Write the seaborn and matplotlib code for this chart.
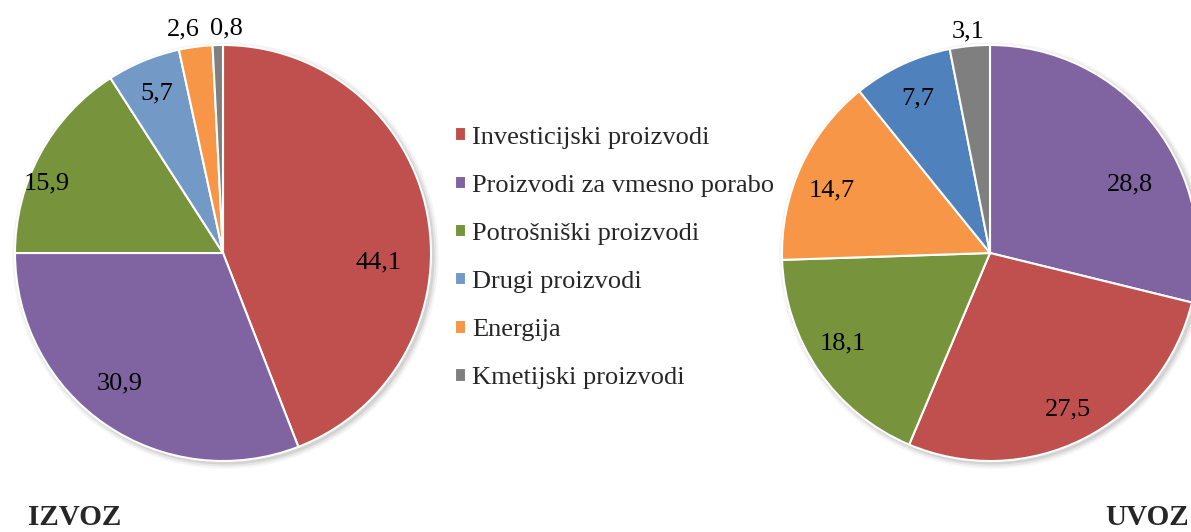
import matplotlib
matplotlib.use('Agg')
import matplotlib.pyplot as plt
from matplotlib.patches import Circle
import seaborn as sns
import numpy as np

sns.set_theme(style='white')
plt.rcParams['font.family'] = ['Liberation Serif', 'DejaVu Serif']

# data
categories = ['Investicijski proizvodi', 'Proizvodi za vmesno porabo', 'Potrošniški proizvodi',
              'Drugi proizvodi', 'Energija', 'Kmetijski proizvodi']
colors = {'Investicijski proizvodi': '#C0504D', 'Proizvodi za vmesno porabo': '#8064A2',
          'Potrošniški proizvodi': '#77933C', 'Drugi proizvodi': '#7399C6',
          'Energija': '#F79646', 'Kmetijski proizvodi': '#7F7F7F'}

izvoz_order = ['Investicijski proizvodi', 'Proizvodi za vmesno porabo', 'Potrošniški proizvodi',
               'Drugi proizvodi', 'Energija', 'Kmetijski proizvodi']
izvoz_values = [44.1, 30.9, 15.9, 5.7, 2.6, 0.8]

uvoz_order = ['Proizvodi za vmesno porabo', 'Investicijski proizvodi', 'Potrošniški proizvodi',
              'Energija', 'Drugi proizvodi', 'Kmetijski proizvodi']
uvoz_values = [28.8, 27.5, 18.1, 14.7, 7.7, 3.1]

# label placement (radius factor, angle shift in degrees)
izvoz_lab = [(0.75, -14), (0.80, -4), (0.91, 7), (0.83, 0), (1.09, 2.6), (1.08, -2.4)]
uvoz_lab = [(0.75, -12), (0.84, 0), (0.83, -3), (0.82, 3), (0.82, 0), (1.07, 0)]

fig = plt.figure(figsize=(11.91, 5.32), dpi=100)


def draw_pie(ax, order, values, lab, blue=None):
    cols = [colors[c] for c in order]
    if blue:
        cols = [blue if c == 'Drugi proizvodi' else colors[c] for c in order]
    # soft shadow
    for k, a in [(1.025, 0.04), (1.015, 0.06), (1.005, 0.08)]:
        ax.add_patch(Circle((0.012, -0.012), k, color='black', alpha=a, lw=0, zorder=0,
                            clip_on=False))
    wedges, _ = ax.pie(values, colors=cols, startangle=90, counterclock=False,
                       wedgeprops=dict(edgecolor='white', linewidth=1.5, zorder=1, clip_on=False))
    for w, v, (r, da) in zip(wedges, values, lab):
        ang = np.deg2rad((w.theta1 + w.theta2) / 2 + da)
        ax.text(r * np.cos(ang), r * np.sin(ang), f'{v:.1f}'.replace('.', ','),
                ha='center', va='center', fontsize=19, color='black', zorder=3)
    ax.set_xlim(-1, 1)
    ax.set_ylim(-1, 1)
    ax.set_aspect('equal')
    ax.axis('off')
    return wedges


r_px = 208
ax1 = fig.add_axes([(223 - r_px) / 1191, 1 - (253 + r_px) / 532, 2 * r_px / 1191, 2 * r_px / 532])
w1 = draw_pie(ax1, izvoz_order, izvoz_values, izvoz_lab)
ax2 = fig.add_axes([(990 - r_px) / 1191, 1 - (253 + r_px) / 532, 2 * r_px / 1191, 2 * r_px / 532])
draw_pie(ax2, uvoz_order, uvoz_values, uvoz_lab, blue='#4F81BD')

fig.legend(w1, izvoz_order, loc='center left', bbox_to_anchor=(0.382, 0.515),
           frameon=False, fontsize=19, handlelength=0.42, handleheight=0.42,
           handletextpad=0.22, labelspacing=0.99, borderpad=0, borderaxespad=0)

fig.text(28 / 1191, 1 - 525 / 532, 'IZVOZ', fontsize=21, fontweight='bold', va='baseline', ha='left')
fig.text(1105 / 1191, 1 - 525 / 532, 'UVOZ', fontsize=21, fontweight='bold', va='baseline', ha='left')

fig.savefig('out.png', dpi=100)
